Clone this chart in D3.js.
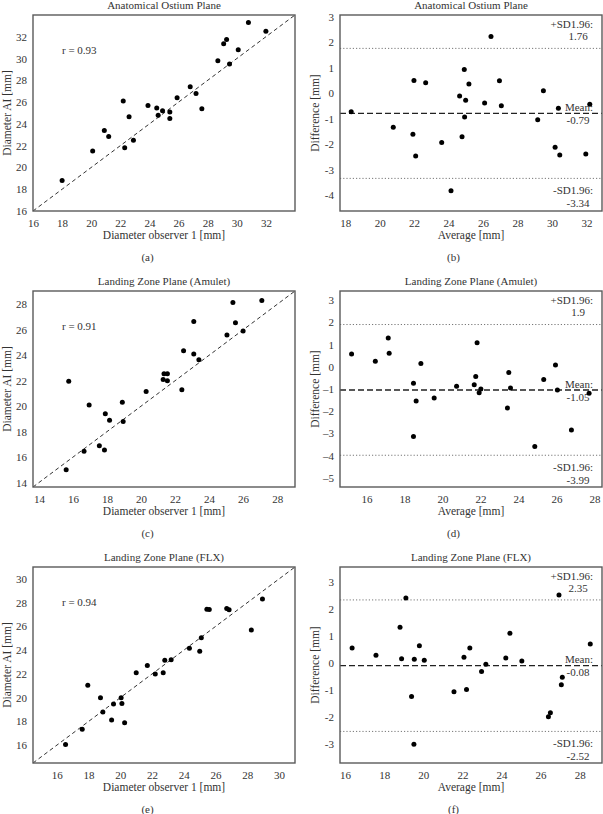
<!DOCTYPE html>
<html><head><meta charset="utf-8">
<script src="https://cdn.jsdelivr.net/npm/d3@7"></script>
<style>
html,body{margin:0;padding:0;background:#fff;}
svg{display:block;}
text{font-family:"Liberation Serif","DejaVu Serif",serif;fill:#333;}
</style></head><body>
<svg id="chart" width="603" height="814"></svg>
<script>
// ---------- data ----------
const planeTitles = ["Anatomical Ostium Plane", "Landing Zone Plane (Amulet)", "Landing Zone Plane (FLX)"];
const panelLetters = ["(a)", "(b)", "(c)", "(d)", "(e)", "(f)"];
const rValues = ["0.93", "0.91", "0.94"];
const meanDiff = [-0.79, -1.05, -0.08];
const upperLoA = [1.76, 1.9, 2.35];
const lowerLoA = [-3.34, -3.99, -2.52];

// (a) scatter
const ostiumObserver1 = [18.0,20.1,20.9,21.2,22.2,22.3,22.6,22.9,23.9,24.5,24.6,24.9,25.4,25.4,25.9,26.8,27.2,27.6,28.7,29.1,29.3,29.5,30.1,30.8,32.0];
const ostiumAI        = [18.8,21.5,23.4,22.85,26.1,21.8,24.65,22.5,25.7,25.45,24.8,25.2,25.1,24.5,26.4,27.4,26.8,25.4,29.8,31.35,31.75,29.5,30.8,33.3,32.5];
// (b) Bland-Altman
const ostiumAverage    = [18.35,20.79,21.99,21.93,22.09,22.67,23.60,24.14,24.64,24.78,24.91,24.93,24.99,25.18,26.09,26.46,26.95,27.06,29.17,29.50,30.18,30.37,30.45,31.96,32.19];
const ostiumDifference = [-0.73,-1.33,0.50,-1.61,-2.46,0.41,-1.93,-3.83,-0.11,-1.71,0.93,-0.93,-0.27,0.36,-0.38,2.23,0.49,-0.49,-1.04,0.10,-2.12,-0.59,-2.42,-2.38,-0.43];
// (c) scatter
const amuletObserver1 = [15.6,15.75,16.65,16.95,17.55,17.85,17.9,18.15,18.9,18.95,20.3,21.3,21.35,21.55,21.55,22.4,22.5,23.1,23.1,23.4,25.05,25.4,25.55,26.0,27.1];
const amuletAI        = [15.0,21.95,16.45,20.1,16.9,16.55,19.4,18.9,20.3,18.8,21.15,22.1,22.55,22.55,22.0,21.3,24.35,26.65,24.1,23.65,25.6,28.15,26.55,25.9,28.3];
// (d) Bland-Altman
const amuletAverage    = [15.21,16.46,17.14,17.19,18.47,18.47,18.61,18.86,19.56,20.74,21.67,21.75,21.82,21.93,22.02,23.42,23.49,23.58,24.86,25.33,25.95,26.05,26.79,27.72];
const amuletDifference = [0.57,0.24,1.29,0.60,-0.75,-3.15,-1.55,0.14,-1.41,-0.88,-0.81,-0.44,1.08,-1.17,-1.0,-1.86,-0.26,-0.96,-3.59,-0.58,0.08,-1.05,-2.85,-1.2];
// (e) scatter
const flxObserver1 = [16.55,17.6,17.95,18.75,18.9,19.45,19.57,20.05,20.1,20.27,21.0,21.7,22.2,22.7,22.8,23.2,24.35,25.0,25.1,25.45,25.6,26.7,26.85,28.25,28.95];
const flxAI        = [16.05,17.35,21.05,20.0,18.8,18.12,19.47,20.0,19.5,17.88,22.1,22.7,22.0,22.1,23.15,23.2,24.15,23.9,25.05,27.45,27.42,27.5,27.4,25.7,28.3];
// (f) Bland-Altman
const flxAverage    = [16.36,17.58,18.81,18.89,19.11,19.40,19.52,19.54,19.80,20.05,21.57,22.08,22.21,22.38,22.98,23.20,24.22,24.43,25.04,26.40,26.50,26.94,27.06,27.11,28.54];
const flxDifference = [0.57,0.30,1.34,0.17,2.42,-1.23,-3.0,0.15,0.65,0.12,-1.05,0.23,-0.97,0.57,-0.30,-0.03,0.20,1.12,0.09,-1.98,-1.83,2.53,-0.79,-0.51,0.72];

// axis domains and tick labels
const scatterDomains = [[16, 34], [13.65, 29.05], [14.5, 31.0]];
const scatterTicks = [
  [16,18,20,22,24,26,28,30,32],
  [14,16,18,20,22,24,26,28],
  [16,18,20,22,24,26,28,30]
];
const baXDomains = [[17.7, 32.9], [14.6, 28.4], [15.74, 29.14]];
const baYDomains = [[-4.62, 3.07], [-5.42, 3.41], [-3.69, 3.57]];
const baXTicks = [
  [18,20,22,24,26,28,30,32],
  [16,18,20,22,24,26,28],
  [16,18,20,22,24,26,28]
];
const baYTicks = [
  [-4,-3,-2,-1,0,1,2,3],
  [-5,-4,-3,-2,-1,0,1,2,3],
  [-3,-2,-1,0,1,2,3]
];
const minusSigns = ["-", "\u2013", "-"];

// ---------- layout ----------
const svg = d3.select("#chart");
const FS = 11;
const rowTop = [15, 291, 567];
const boxH = 196;
const leftBox = {x0: 33, x1: 295};
const rightBox = {x0: 340, x1: 602};
const FRAME = "#5a5a5a";

function frame(g, x0, y0, w, h) {
  g.append("rect").attr("x", x0).attr("y", y0).attr("width", w).attr("height", h)
    .attr("fill", "none").attr("stroke", FRAME).attr("stroke-width", 1.4);
}

function axes(g, xs, ys, xt, yt, y0, fmt) {
  const gx = g.append("g").attr("transform", `translate(0,${y0 + boxH})`)
    .call(d3.axisBottom(xs).tickValues(xt).tickSize(0).tickPadding(8).tickFormat(fmt));
  const gy = g.append("g").attr("transform", `translate(${xs.range()[0]},0)`)
    .call(d3.axisLeft(ys).tickValues(yt).tickSize(0).tickPadding(6).tickFormat(fmt));
  [gx, gy].forEach(a => {
    a.select(".domain").remove();
    a.selectAll("text").attr("font-family", "Liberation Serif, DejaVu Serif, serif")
      .attr("font-size", FS).attr("fill", "#333");
  });
}

function labels(g, box, y0, title, xl, yl, yLabelX, letter, letterX) {
  const cx = (box.x0 + box.x1) / 2;
  g.append("text").attr("x", cx).attr("y", y0 - 6).attr("text-anchor", "middle")
    .attr("font-size", FS).text(title);
  g.append("text").attr("x", cx).attr("y", y0 + boxH + 28).attr("text-anchor", "middle")
    .attr("font-size", FS + 0.5).text(xl);
  g.append("text").attr("transform", `translate(${yLabelX},${y0 + boxH / 2}) rotate(-90)`)
    .attr("text-anchor", "middle").attr("dy", "0.35em").attr("font-size", FS + 0.5).text(yl);
  g.append("text").attr("x", letterX).attr("y", y0 + boxH + 50).attr("text-anchor", "middle")
    .attr("font-size", FS).text(letter);
}

function scatterPanel(i, xv, yv) {
  const g = svg.append("g");
  const y0 = rowTop[i];
  const dom = scatterDomains[i];
  const xs = d3.scaleLinear().domain(dom).range([leftBox.x0, leftBox.x1]);
  const ys = d3.scaleLinear().domain(dom).range([y0 + boxH, y0]);
  axes(g, xs, ys, scatterTicks[i], scatterTicks[i], y0, d => String(d));
  g.append("line")
    .attr("x1", xs(dom[0])).attr("y1", ys(dom[0])).attr("x2", xs(dom[1])).attr("y2", ys(dom[1]))
    .attr("stroke", "#333").attr("stroke-width", 1).attr("stroke-dasharray", "4,3");
  g.append("text").attr("x", leftBox.x0 + 29).attr("y", y0 + 35).attr("dy", "0.35em")
    .attr("font-size", FS).attr("font-family", "Liberation Sans, Arial, sans-serif").attr("fill", "#333")
    .text("r = " + rValues[i]);
  g.selectAll("circle").data(xv.map((x, k) => [x, yv[k]])).join("circle")
    .attr("cx", d => xs(d[0])).attr("cy", d => ys(d[1])).attr("r", 2.5).attr("fill", "#000");
  frame(g, leftBox.x0, y0, leftBox.x1 - leftBox.x0, boxH);
  labels(g, leftBox, y0, planeTitles[i], "Diameter observer 1 [mm]", "Diameter AI [mm]", 7,
    panelLetters[i * 2], 147.5);
}

function baPanel(i, av, df) {
  const g = svg.append("g");
  const y0 = rowTop[i];
  const xs = d3.scaleLinear().domain(baXDomains[i]).range([rightBox.x0, rightBox.x1]);
  const ys = d3.scaleLinear().domain(baYDomains[i]).range([y0 + boxH, y0]);
  const m = minusSigns[i];
  axes(g, xs, ys, baXTicks[i], baYTicks[i], y0, d => (d < 0 ? m + Math.abs(d) : String(d)));
  // limits of agreement
  [upperLoA[i], lowerLoA[i]].forEach(v => {
    g.append("line").attr("x1", rightBox.x0).attr("x2", rightBox.x1).attr("y1", ys(v)).attr("y2", ys(v))
      .attr("stroke", "#777").attr("stroke-width", 1).attr("stroke-dasharray", "1.2,2");
  });
  g.append("line").attr("x1", rightBox.x0).attr("x2", rightBox.x1)
    .attr("y1", ys(meanDiff[i])).attr("y2", ys(meanDiff[i]))
    .attr("stroke", "#222").attr("stroke-width", 1.3).attr("stroke-dasharray", "6,3");
  const lx = rightBox.x1 - 9, vx = rightBox.x1 - 24;
  const fmtv = v => String(v).replace("-", "-");
  const lab = (txt, y, anchor, x) => g.append("text").attr("x", x).attr("y", y).attr("dy", "0.35em")
    .attr("text-anchor", anchor).attr("font-size", FS).text(txt);
  lab("+SD1.96:", ys(upperLoA[i]) - 24, "end", lx);
  lab(fmtv(upperLoA[i]), ys(upperLoA[i]) - 12, "middle", vx);
  lab("Mean:", ys(meanDiff[i]) - 6, "end", lx);
  lab(fmtv(meanDiff[i]), ys(meanDiff[i]) + 7, "middle", vx);
  lab("-SD1.96:", ys(lowerLoA[i]) + 12, "end", lx);
  lab(fmtv(lowerLoA[i]), ys(lowerLoA[i]) + 25, "middle", vx);
  g.selectAll("circle").data(av.map((x, k) => [x, df[k]])).join("circle")
    .attr("cx", d => xs(d[0])).attr("cy", d => ys(d[1])).attr("r", 2.5).attr("fill", "#000");
  frame(g, rightBox.x0, y0, rightBox.x1 - rightBox.x0, boxH);
  labels(g, rightBox, y0, planeTitles[i], "Average [mm]", "Difference [mm]", 315,
    panelLetters[i * 2 + 1], 453.5);
}

scatterPanel(0, ostiumObserver1, ostiumAI);
baPanel(0, ostiumAverage, ostiumDifference);
scatterPanel(1, amuletObserver1, amuletAI);
baPanel(1, amuletAverage, amuletDifference);
scatterPanel(2, flxObserver1, flxAI);
baPanel(2, flxAverage, flxDifference);
</script>
</body></html>
